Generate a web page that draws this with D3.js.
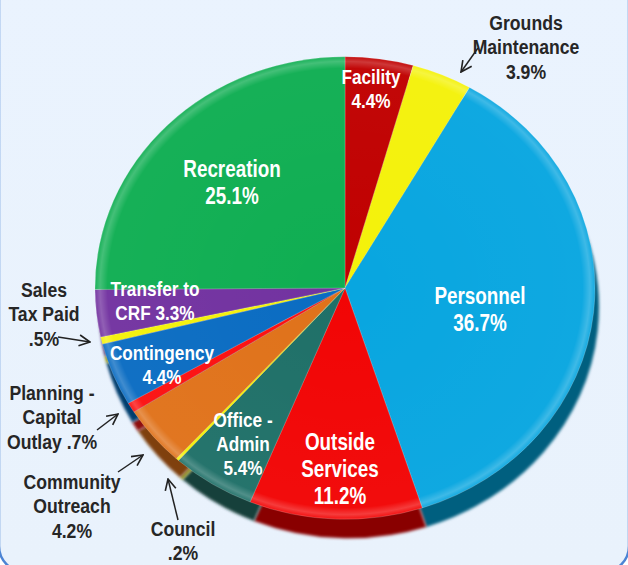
<!DOCTYPE html>
<html>
<head>
<meta charset="utf-8">
<script src="https://cdn.jsdelivr.net/npm/d3@7"></script>
<style>
  body { margin: 0; background: #ffffff; }
  text { font-family: "Liberation Sans", Arial, sans-serif; font-weight: bold; }
</style>
</head>
<body>
<div id="pie"></div>
<script>
// budget categories, clockwise from 12 o'clock
const categories = ["Facility", "Grounds Maintenance", "Personnel", "Outside Services", "Office - Admin",
  "Council", "Community Outreach", "Planning - Capital Outlay", "Contingency", "Sales Tax Paid",
  "Transfer to CRF", "Recreation"];
const values = [4.4, 3.9, 36.7, 11.2, 5.4, 0.2, 4.2, 0.7, 4.4, 0.5, 3.3, 25.1];
const valueLabels = ["4.4%", "3.9%", "36.7%", "11.2%", "5.4%", ".2%", "4.2%", ".7%", "4.4%", ".5%", "3.3%", "25.1%"];
const palette = ["#c00000", "#f4f20a", "#08a6e0", "#f20505", "#1f7068", "#f4f20a",
  "#e0721a", "#fc1010", "#0a6cc2", "#f4f20a", "#7232a0", "#0fae52"];

// label text lines, where they sit, and whether inside (white) or outside (dark + arrow)
const labelLayout = [
  { lines: ["Facility", "4.4%"], x: 371, y: 76, inside: true },
  { lines: ["Grounds", "Maintenance", "3.9%"], x: 526, y: 22, inside: false, arrow: [478, 48, 461, 72] },
  { lines: ["Personnel", "36.7%"], x: 480, y: 295, inside: true, big: true },
  { lines: ["Outside", "Services", "11.2%"], x: 340, y: 441, inside: true, big: true },
  { lines: ["Office -", "Admin", "5.4%"], x: 243, y: 419, inside: true },
  { lines: ["Council", ".2%"], x: 183, y: 528, inside: false, arrow: [178, 520, 168, 479] },
  { lines: ["Community", "Outreach", "4.2%"], x: 72, y: 481, inside: false, arrow: [118, 472, 143, 455] },
  { lines: ["Planning -", "Capital", "Outlay .7%"], x: 52, y: 392, inside: false, arrow: [97, 430, 118, 414] },
  { lines: ["Contingency", "4.4%"], x: 162, y: 352, inside: true },
  { lines: ["Sales", "Tax Paid", ".5%"], x: 44, y: 289, inside: false, arrow: [58, 337, 90, 342] },
  { lines: ["Transfer to", "CRF 3.3%"], x: 155, y: 288, inside: true },
  { lines: ["Recreation", "25.1%"], x: 232, y: 168, inside: true, big: true }
];

const W = 628, H = 565;
const cx = 345, cy = 288, r = 250, squash = 0.925, depth = 19;

const svg = d3.select("#pie").append("svg")
  .attr("width", W).attr("height", H);

const defs = svg.append("defs");

const bg = defs.append("linearGradient").attr("id", "bg").attr("x1", 0).attr("y1", 0).attr("x2", 0).attr("y2", 1);
bg.append("stop").attr("offset", "0%").attr("stop-color", "#eaf3fe");
bg.append("stop").attr("offset", "100%").attr("stop-color", "#e9f2fc");

// bevel shading over the top of the pie
const bevel = defs.append("radialGradient").attr("id", "bevel")
  .attr("gradientUnits", "userSpaceOnUse").attr("cx", 0).attr("cy", 0).attr("r", r);
bevel.append("stop").attr("offset", "0%").attr("stop-color", "#fff").attr("stop-opacity", 0);
bevel.append("stop").attr("offset", "95%").attr("stop-color", "#fff").attr("stop-opacity", 0.03);
bevel.append("stop").attr("offset", "98%").attr("stop-color", "#fff").attr("stop-opacity", 0.22);
bevel.append("stop").attr("offset", "100%").attr("stop-color", "#fff").attr("stop-opacity", 0.05);

const shadow = defs.append("filter").attr("id", "soft").attr("x", "-10%").attr("y", "-10%").attr("width", "120%").attr("height", "120%");
shadow.append("feGaussianBlur").attr("stdDeviation", 1.5);

defs.append("marker").attr("id", "arrow")
  .attr("viewBox", "0 0 12 12").attr("refX", 11).attr("refY", 6)
  .attr("markerWidth", 13).attr("markerHeight", 13).attr("markerUnits", "userSpaceOnUse")
  .attr("orient", "auto")
  .append("path").attr("d", "M1,1 L11,6 L1,11")
  .attr("fill", "none").attr("stroke", "#222").attr("stroke-width", 1.5);

// background panel with rounded frame
svg.append("rect")
  .attr("x", -1).attr("y", -40).attr("width", W + 2).attr("height", H + 47)
  .attr("rx", 26)
  .attr("fill", "url(#bg)").attr("stroke", "#4c84d4").attr("stroke-width", 2.5);

const pie = d3.pie().sort(null).value(d => d)(values);
const arc = d3.arc().innerRadius(0).outerRadius(r);

// side of the disc (darker copy shifted down and a bit right)
const side = svg.append("g")
  .attr("transform", `translate(${cx + 4}, ${cy + depth}) scale(1, ${squash})`);
side.selectAll("path")
  .data(pie)
  .join("path")
    .attr("d", arc)
    .attr("fill", (d, i) => d3.color(palette[i]).darker(1.6))
    .attr("filter", "url(#soft)");

// top of the disc
const face = svg.append("g")
  .attr("transform", `translate(${cx}, ${cy}) scale(1, ${squash})`);
face.selectAll("path")
  .data(pie)
  .join("path")
    .attr("d", arc)
    .attr("fill", (d, i) => palette[i])
    .attr("stroke", "rgba(255,255,255,0.35)")
    .attr("stroke-width", 0.6);
face.append("circle").attr("r", r).attr("fill", "url(#bevel)");

// labels (condensed by a horizontal squeeze)
const labels = svg.append("g");
labelLayout.forEach(l => {
  const size = l.inside ? (l.big ? 23 : 20) : 21;
  const step = l.inside ? (l.big ? 27 : 24.5) : 24.5;
  const squeeze = l.inside ? (l.big ? 0.82 : 0.86) : 0.84;
  const t = labels.append("text")
    .attr("transform", `translate(${l.x}, ${l.y}) scale(${squeeze}, 1)`)
    .attr("text-anchor", "middle")
    .attr("dominant-baseline", "central")
    .attr("font-size", size)
    .attr("fill", l.inside ? "#ffffff" : "#262626");
  l.lines.forEach((line, j) => {
    t.append("tspan").attr("x", 0).attr("y", j * step).text(line);
  });
  if (l.arrow) {
    labels.append("line")
      .attr("x1", l.arrow[0]).attr("y1", l.arrow[1])
      .attr("x2", l.arrow[2]).attr("y2", l.arrow[3])
      .attr("stroke", "#222").attr("stroke-width", 1.5)
      .attr("marker-end", "url(#arrow)");
  }
});
</script>
</body>
</html>
